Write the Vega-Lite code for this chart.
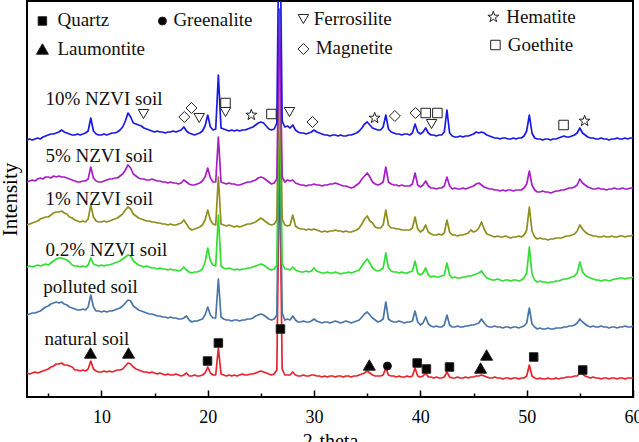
{
  "$schema": "https://vega.github.io/schema/vega-lite/v6.json",
  "width": 606,
  "height": 396,
  "autosize": {"type": "none"},
  "padding": {"left": 27, "top": 1, "right": 6, "bottom": 45},
  "background": "#ffffff",
  "config": {
    "view": {"stroke": "#000000", "strokeWidth": 2},
    "font": "'Liberation Serif', 'Times New Roman', 'DejaVu Serif', serif"
  },
  "layer": [
    {
      "data": {
        "values": [
          {"t":3.00,"nat":24,"pol":82,"z02":130,"z1":172,"z5":215,"z10":257},
          {"t":3.25,"nat":23,"pol":83,"z02":131,"z1":173,"z5":216,"z10":258},
          {"t":3.50,"nat":24,"pol":84,"z02":130,"z1":174,"z5":217,"z10":257},
          {"t":3.75,"nat":25,"pol":84,"z02":131,"z1":175,"z5":216,"z10":258},
          {"t":4.00,"nat":24,"pol":85,"z02":132,"z1":176,"z5":218,"z10":259},
          {"t":4.25,"nat":25,"pol":86,"z02":131,"z1":178,"z5":219,"z10":258},
          {"t":4.50,"nat":26,"pol":88,"z02":132,"z1":179,"z5":218,"z10":260},
          {"t":4.75,"nat":27,"pol":90,"z02":133,"z1":180,"z5":220,"z10":261},
          {"t":5.00,"nat":28,"pol":91,"z02":132,"z1":180,"z5":220,"z10":262},
          {"t":5.25,"nat":30,"pol":93,"z02":134,"z1":182,"z5":219,"z10":263},
          {"t":5.50,"nat":31,"pol":94,"z02":136,"z1":184,"z5":221,"z10":263},
          {"t":5.75,"nat":33,"pol":95,"z02":138,"z1":185,"z5":220,"z10":264},
          {"t":6.00,"nat":33,"pol":94,"z02":139,"z1":185,"z5":221,"z10":265},
          {"t":6.25,"nat":34,"pol":95,"z02":139,"z1":186,"z5":220,"z10":267},
          {"t":6.50,"nat":32,"pol":93,"z02":138,"z1":184,"z5":220,"z10":265},
          {"t":6.75,"nat":32,"pol":92,"z02":137,"z1":183,"z5":219,"z10":264},
          {"t":7.00,"nat":31,"pol":90,"z02":135,"z1":180,"z5":218,"z10":263},
          {"t":7.25,"nat":30,"pol":89,"z02":132,"z1":179,"z5":217,"z10":262},
          {"t":7.50,"nat":27,"pol":88,"z02":131,"z1":177,"z5":216,"z10":262},
          {"t":7.75,"nat":27,"pol":87,"z02":131,"z1":176,"z5":215,"z10":263},
          {"t":8.00,"nat":26,"pol":87,"z02":130,"z1":175,"z5":215,"z10":262},
          {"t":8.25,"nat":27,"pol":88,"z02":131,"z1":176,"z5":216,"z10":263},
          {"t":8.50,"nat":26,"pol":87,"z02":130,"z1":175,"z5":216,"z10":264},
          {"t":8.75,"nat":28,"pol":90,"z02":132,"z1":178,"z5":218,"z10":266},
          {"t":9.00,"nat":36,"pol":102,"z02":139,"z1":192,"z5":230,"z10":279},
          {"t":9.25,"nat":28,"pol":90,"z02":133,"z1":180,"z5":219,"z10":266},
          {"t":9.50,"nat":26,"pol":86,"z02":132,"z1":176,"z5":216,"z10":263},
          {"t":9.75,"nat":25,"pol":86,"z02":131,"z1":175,"z5":215,"z10":262},
          {"t":10.00,"nat":25,"pol":85,"z02":132,"z1":175,"z5":215,"z10":262},
          {"t":10.25,"nat":26,"pol":86,"z02":131,"z1":176,"z5":216,"z10":263},
          {"t":10.50,"nat":25,"pol":85,"z02":132,"z1":175,"z5":217,"z10":262},
          {"t":10.75,"nat":26,"pol":86,"z02":132,"z1":176,"z5":218,"z10":263},
          {"t":11.00,"nat":25,"pol":86,"z02":133,"z1":177,"z5":218,"z10":264},
          {"t":11.25,"nat":26,"pol":87,"z02":134,"z1":178,"z5":219,"z10":264},
          {"t":11.50,"nat":27,"pol":88,"z02":135,"z1":179,"z5":219,"z10":265},
          {"t":11.75,"nat":27,"pol":89,"z02":136,"z1":181,"z5":221,"z10":267},
          {"t":12.00,"nat":28,"pol":91,"z02":138,"z1":183,"z5":223,"z10":270},
          {"t":12.25,"nat":31,"pol":94,"z02":140,"z1":187,"z5":227,"z10":276},
          {"t":12.50,"nat":34,"pol":97,"z02":142,"z1":190,"z5":232,"z10":284},
          {"t":12.75,"nat":33,"pol":96,"z02":141,"z1":188,"z5":229,"z10":280},
          {"t":13.00,"nat":30,"pol":91,"z02":136,"z1":183,"z5":223,"z10":274},
          {"t":13.25,"nat":28,"pol":89,"z02":134,"z1":181,"z5":221,"z10":273},
          {"t":13.50,"nat":27,"pol":87,"z02":132,"z1":179,"z5":219,"z10":272},
          {"t":13.75,"nat":26,"pol":86,"z02":131,"z1":178,"z5":218,"z10":271},
          {"t":14.00,"nat":25,"pol":85,"z02":130,"z1":177,"z5":218,"z10":269},
          {"t":14.25,"nat":25,"pol":84,"z02":131,"z1":176,"z5":217,"z10":268},
          {"t":14.50,"nat":24,"pol":83,"z02":130,"z1":176,"z5":217,"z10":267},
          {"t":14.75,"nat":25,"pol":83,"z02":129,"z1":175,"z5":218,"z10":266},
          {"t":15.00,"nat":24,"pol":82,"z02":129,"z1":175,"z5":217,"z10":265},
          {"t":15.25,"nat":23,"pol":81,"z02":128,"z1":174,"z5":216,"z10":266},
          {"t":15.50,"nat":24,"pol":81,"z02":129,"z1":174,"z5":216,"z10":265},
          {"t":15.75,"nat":23,"pol":80,"z02":128,"z1":173,"z5":215,"z10":265},
          {"t":16.00,"nat":22,"pol":80,"z02":128,"z1":173,"z5":215,"z10":264},
          {"t":16.25,"nat":23,"pol":79,"z02":127,"z1":172,"z5":214,"z10":265},
          {"t":16.50,"nat":22,"pol":80,"z02":128,"z1":173,"z5":215,"z10":265},
          {"t":16.75,"nat":22,"pol":79,"z02":127,"z1":172,"z5":214,"z10":266},
          {"t":17.00,"nat":23,"pol":79,"z02":127,"z1":172,"z5":214,"z10":265},
          {"t":17.25,"nat":22,"pol":78,"z02":126,"z1":173,"z5":213,"z10":266},
          {"t":17.50,"nat":21,"pol":78,"z02":127,"z1":174,"z5":214,"z10":267},
          {"t":17.75,"nat":22,"pol":79,"z02":130,"z1":177,"z5":217,"z10":270},
          {"t":18.00,"nat":24,"pol":81,"z02":127,"z1":173,"z5":215,"z10":266},
          {"t":18.25,"nat":21,"pol":77,"z02":125,"z1":169,"z5":213,"z10":264},
          {"t":18.50,"nat":21,"pol":75,"z02":124,"z1":167,"z5":212,"z10":263},
          {"t":18.75,"nat":22,"pol":76,"z02":125,"z1":168,"z5":212,"z10":262},
          {"t":19.00,"nat":21,"pol":76,"z02":125,"z1":169,"z5":213,"z10":263},
          {"t":19.25,"nat":21,"pol":77,"z02":126,"z1":170,"z5":214,"z10":264},
          {"t":19.50,"nat":22,"pol":78,"z02":128,"z1":172,"z5":216,"z10":266},
          {"t":19.75,"nat":24,"pol":82,"z02":135,"z1":177,"z5":220,"z10":271},
          {"t":20.00,"nat":30,"pol":90,"z02":149,"z1":187,"z5":229,"z10":282},
          {"t":20.25,"nat":24,"pol":82,"z02":136,"z1":177,"z5":219,"z10":270},
          {"t":20.50,"nat":22,"pol":79,"z02":132,"z1":173,"z5":215,"z10":267},
          {"t":20.75,"nat":22,"pol":79,"z02":131,"z1":172,"z5":215,"z10":268},
          {"t":21.00,"nat":49,"pol":118,"z02":182,"z1":220,"z5":260,"z10":322},
          {"t":21.25,"nat":23,"pol":80,"z02":131,"z1":173,"z5":215,"z10":269},
          {"t":21.50,"nat":22,"pol":78,"z02":129,"z1":172,"z5":214,"z10":268},
          {"t":21.75,"nat":21,"pol":77,"z02":128,"z1":171,"z5":213,"z10":267},
          {"t":22.00,"nat":22,"pol":77,"z02":129,"z1":172,"z5":214,"z10":266},
          {"t":22.25,"nat":21,"pol":76,"z02":128,"z1":171,"z5":213,"z10":267},
          {"t":22.50,"nat":22,"pol":77,"z02":127,"z1":170,"z5":213,"z10":266},
          {"t":22.75,"nat":21,"pol":77,"z02":128,"z1":171,"z5":212,"z10":267},
          {"t":23.00,"nat":22,"pol":76,"z02":127,"z1":170,"z5":212,"z10":266},
          {"t":23.25,"nat":23,"pol":77,"z02":128,"z1":171,"z5":213,"z10":267},
          {"t":23.50,"nat":22,"pol":77,"z02":128,"z1":172,"z5":214,"z10":267},
          {"t":23.75,"nat":22,"pol":78,"z02":129,"z1":173,"z5":215,"z10":268},
          {"t":24.00,"nat":23,"pol":78,"z02":129,"z1":173,"z5":215,"z10":269},
          {"t":24.25,"nat":23,"pol":79,"z02":130,"z1":174,"z5":216,"z10":270},
          {"t":24.50,"nat":24,"pol":81,"z02":131,"z1":175,"z5":217,"z10":272},
          {"t":24.75,"nat":25,"pol":82,"z02":132,"z1":177,"z5":219,"z10":274},
          {"t":25.00,"nat":26,"pol":83,"z02":133,"z1":179,"z5":220,"z10":275},
          {"t":25.25,"nat":25,"pol":82,"z02":132,"z1":177,"z5":219,"z10":274},
          {"t":25.50,"nat":24,"pol":80,"z02":130,"z1":175,"z5":217,"z10":271},
          {"t":25.75,"nat":23,"pol":78,"z02":128,"z1":173,"z5":215,"z10":268},
          {"t":26.00,"nat":22,"pol":77,"z02":127,"z1":172,"z5":213,"z10":267},
          {"t":26.25,"nat":23,"pol":78,"z02":128,"z1":173,"z5":214,"z10":268},
          {"t":26.50,"nat":27,"pol":82,"z02":132,"z1":177,"z5":218,"z10":274},
          {"t":26.75,"nat":247,"pol":288,"z02":328,"z1":358,"z5":388,"z10":520},
          {"t":27.00,"nat":28,"pol":84,"z02":134,"z1":178,"z5":220,"z10":276},
          {"t":27.25,"nat":22,"pol":77,"z02":128,"z1":172,"z5":215,"z10":270},
          {"t":27.50,"nat":22,"pol":78,"z02":128,"z1":171,"z5":217,"z10":271},
          {"t":27.75,"nat":22,"pol":77,"z02":127,"z1":172,"z5":216,"z10":269},
          {"t":28.00,"nat":25,"pol":81,"z02":130,"z1":182,"z5":217,"z10":272},
          {"t":28.25,"nat":22,"pol":77,"z02":127,"z1":171,"z5":214,"z10":267},
          {"t":28.50,"nat":21,"pol":75,"z02":126,"z1":169,"z5":213,"z10":265},
          {"t":28.75,"nat":21,"pol":75,"z02":125,"z1":168,"z5":212,"z10":264},
          {"t":29.00,"nat":22,"pol":76,"z02":125,"z1":168,"z5":212,"z10":264},
          {"t":29.25,"nat":21,"pol":75,"z02":126,"z1":167,"z5":211,"z10":263},
          {"t":29.50,"nat":21,"pol":75,"z02":125,"z1":168,"z5":212,"z10":264},
          {"t":29.75,"nat":22,"pol":76,"z02":126,"z1":167,"z5":212,"z10":265},
          {"t":30.00,"nat":22,"pol":78,"z02":129,"z1":168,"z5":213,"z10":267},
          {"t":30.25,"nat":21,"pol":76,"z02":126,"z1":167,"z5":212,"z10":265},
          {"t":30.50,"nat":21,"pol":75,"z02":125,"z1":166,"z5":212,"z10":264},
          {"t":30.75,"nat":20,"pol":74,"z02":124,"z1":165,"z5":211,"z10":263},
          {"t":31.00,"nat":21,"pol":75,"z02":124,"z1":166,"z5":212,"z10":262},
          {"t":31.25,"nat":20,"pol":75,"z02":125,"z1":165,"z5":212,"z10":262},
          {"t":31.50,"nat":21,"pol":74,"z02":124,"z1":166,"z5":213,"z10":261},
          {"t":31.75,"nat":21,"pol":75,"z02":124,"z1":166,"z5":213,"z10":262},
          {"t":32.00,"nat":20,"pol":76,"z02":125,"z1":167,"z5":214,"z10":262},
          {"t":32.25,"nat":21,"pol":75,"z02":124,"z1":166,"z5":213,"z10":261},
          {"t":32.50,"nat":21,"pol":74,"z02":123,"z1":166,"z5":212,"z10":262},
          {"t":32.75,"nat":20,"pol":75,"z02":124,"z1":165,"z5":211,"z10":261},
          {"t":33.00,"nat":21,"pol":76,"z02":124,"z1":166,"z5":211,"z10":261},
          {"t":33.25,"nat":21,"pol":75,"z02":125,"z1":165,"z5":210,"z10":262},
          {"t":33.50,"nat":20,"pol":74,"z02":124,"z1":165,"z5":209,"z10":262},
          {"t":33.75,"nat":21,"pol":75,"z02":125,"z1":166,"z5":210,"z10":263},
          {"t":34.00,"nat":21,"pol":76,"z02":126,"z1":167,"z5":212,"z10":264},
          {"t":34.25,"nat":22,"pol":77,"z02":127,"z1":169,"z5":214,"z10":266},
          {"t":34.50,"nat":23,"pol":80,"z02":131,"z1":173,"z5":218,"z10":269},
          {"t":34.75,"nat":24,"pol":83,"z02":135,"z1":178,"z5":221,"z10":273},
          {"t":35.00,"nat":26,"pol":85,"z02":138,"z1":181,"z5":224,"z10":275},
          {"t":35.25,"nat":24,"pol":82,"z02":134,"z1":176,"z5":220,"z10":272},
          {"t":35.50,"nat":22,"pol":79,"z02":129,"z1":174,"z5":215,"z10":269},
          {"t":35.75,"nat":21,"pol":77,"z02":127,"z1":170,"z5":213,"z10":268},
          {"t":36.00,"nat":21,"pol":75,"z02":126,"z1":169,"z5":212,"z10":267},
          {"t":36.25,"nat":21,"pol":76,"z02":127,"z1":169,"z5":213,"z10":267},
          {"t":36.50,"nat":22,"pol":78,"z02":129,"z1":172,"z5":215,"z10":270},
          {"t":36.75,"nat":29,"pol":95,"z02":144,"z1":187,"z5":230,"z10":282},
          {"t":37.00,"nat":22,"pol":78,"z02":129,"z1":172,"z5":215,"z10":268},
          {"t":37.25,"nat":21,"pol":76,"z02":126,"z1":169,"z5":213,"z10":265},
          {"t":37.50,"nat":21,"pol":75,"z02":125,"z1":169,"z5":212,"z10":264},
          {"t":37.75,"nat":20,"pol":75,"z02":125,"z1":168,"z5":212,"z10":263},
          {"t":38.00,"nat":21,"pol":76,"z02":124,"z1":168,"z5":211,"z10":263},
          {"t":38.25,"nat":20,"pol":75,"z02":125,"z1":167,"z5":212,"z10":262},
          {"t":38.50,"nat":20,"pol":74,"z02":124,"z1":167,"z5":211,"z10":263},
          {"t":38.75,"nat":21,"pol":75,"z02":124,"z1":167,"z5":211,"z10":263},
          {"t":39.00,"nat":20,"pol":75,"z02":125,"z1":167,"z5":211,"z10":262},
          {"t":39.25,"nat":21,"pol":76,"z02":126,"z1":169,"z5":213,"z10":264},
          {"t":39.50,"nat":29,"pol":86,"z02":136,"z1":180,"z5":224,"z10":273},
          {"t":39.75,"nat":21,"pol":75,"z02":124,"z1":168,"z5":212,"z10":265},
          {"t":40.00,"nat":20,"pol":72,"z02":122,"z1":165,"z5":210,"z10":263},
          {"t":40.25,"nat":21,"pol":74,"z02":124,"z1":167,"z5":212,"z10":265},
          {"t":40.50,"nat":24,"pol":80,"z02":129,"z1":172,"z5":216,"z10":269},
          {"t":40.75,"nat":20,"pol":73,"z02":122,"z1":165,"z5":211,"z10":264},
          {"t":41.00,"nat":20,"pol":71,"z02":120,"z1":163,"z5":209,"z10":262},
          {"t":41.25,"nat":19,"pol":70,"z02":121,"z1":162,"z5":209,"z10":262},
          {"t":41.50,"nat":20,"pol":71,"z02":120,"z1":162,"z5":208,"z10":261},
          {"t":41.75,"nat":19,"pol":70,"z02":120,"z1":163,"z5":209,"z10":262},
          {"t":42.00,"nat":19,"pol":70,"z02":121,"z1":162,"z5":209,"z10":262},
          {"t":42.25,"nat":20,"pol":72,"z02":122,"z1":164,"z5":211,"z10":265},
          {"t":42.50,"nat":25,"pol":82,"z02":134,"z1":177,"z5":220,"z10":287},
          {"t":42.75,"nat":20,"pol":72,"z02":122,"z1":165,"z5":211,"z10":264},
          {"t":43.00,"nat":19,"pol":70,"z02":119,"z1":162,"z5":208,"z10":261},
          {"t":43.25,"nat":19,"pol":70,"z02":120,"z1":162,"z5":209,"z10":260},
          {"t":43.50,"nat":20,"pol":71,"z02":119,"z1":161,"z5":208,"z10":260},
          {"t":43.75,"nat":19,"pol":70,"z02":119,"z1":162,"z5":208,"z10":261},
          {"t":44.00,"nat":19,"pol":70,"z02":120,"z1":162,"z5":209,"z10":260},
          {"t":44.25,"nat":20,"pol":71,"z02":120,"z1":163,"z5":208,"z10":261},
          {"t":44.50,"nat":19,"pol":71,"z02":121,"z1":164,"z5":209,"z10":261},
          {"t":44.75,"nat":20,"pol":72,"z02":121,"z1":167,"z5":210,"z10":262},
          {"t":45.00,"nat":20,"pol":72,"z02":122,"z1":165,"z5":211,"z10":263},
          {"t":45.25,"nat":21,"pol":73,"z02":123,"z1":166,"z5":213,"z10":265},
          {"t":45.50,"nat":21,"pol":74,"z02":124,"z1":169,"z5":214,"z10":264},
          {"t":45.75,"nat":22,"pol":78,"z02":126,"z1":175,"z5":212,"z10":265},
          {"t":46.00,"nat":21,"pol":74,"z02":122,"z1":168,"z5":210,"z10":264},
          {"t":46.25,"nat":20,"pol":71,"z02":119,"z1":163,"z5":209,"z10":262},
          {"t":46.50,"nat":19,"pol":70,"z02":118,"z1":162,"z5":208,"z10":261},
          {"t":46.75,"nat":19,"pol":70,"z02":117,"z1":161,"z5":208,"z10":260},
          {"t":47.00,"nat":20,"pol":71,"z02":117,"z1":160,"z5":207,"z10":259},
          {"t":47.25,"nat":19,"pol":70,"z02":118,"z1":161,"z5":207,"z10":259},
          {"t":47.50,"nat":19,"pol":70,"z02":117,"z1":160,"z5":206,"z10":258},
          {"t":47.75,"nat":18,"pol":69,"z02":116,"z1":160,"z5":207,"z10":259},
          {"t":48.00,"nat":19,"pol":70,"z02":117,"z1":161,"z5":206,"z10":259},
          {"t":48.25,"nat":19,"pol":70,"z02":117,"z1":160,"z5":207,"z10":258},
          {"t":48.50,"nat":18,"pol":69,"z02":116,"z1":159,"z5":207,"z10":258},
          {"t":48.75,"nat":19,"pol":70,"z02":117,"z1":160,"z5":206,"z10":259},
          {"t":49.00,"nat":19,"pol":70,"z02":117,"z1":160,"z5":207,"z10":258},
          {"t":49.25,"nat":18,"pol":69,"z02":116,"z1":161,"z5":207,"z10":259},
          {"t":49.50,"nat":19,"pol":70,"z02":117,"z1":160,"z5":207,"z10":259},
          {"t":49.75,"nat":19,"pol":71,"z02":119,"z1":162,"z5":209,"z10":261},
          {"t":50.00,"nat":21,"pol":74,"z02":124,"z1":167,"z5":213,"z10":266},
          {"t":50.25,"nat":32,"pol":89,"z02":150,"z1":190,"z5":226,"z10":282},
          {"t":50.50,"nat":21,"pol":73,"z02":123,"z1":166,"z5":212,"z10":264},
          {"t":50.75,"nat":19,"pol":70,"z02":117,"z1":160,"z5":207,"z10":259},
          {"t":51.00,"nat":18,"pol":68,"z02":115,"z1":158,"z5":205,"z10":258},
          {"t":51.25,"nat":19,"pol":69,"z02":116,"z1":159,"z5":205,"z10":258},
          {"t":51.50,"nat":18,"pol":68,"z02":115,"z1":158,"z5":206,"z10":257},
          {"t":51.75,"nat":18,"pol":68,"z02":115,"z1":158,"z5":205,"z10":258},
          {"t":52.00,"nat":19,"pol":69,"z02":114,"z1":157,"z5":205,"z10":258},
          {"t":52.25,"nat":18,"pol":68,"z02":115,"z1":158,"z5":204,"z10":257},
          {"t":52.50,"nat":18,"pol":68,"z02":115,"z1":158,"z5":205,"z10":258},
          {"t":52.75,"nat":19,"pol":69,"z02":116,"z1":159,"z5":206,"z10":258},
          {"t":53.00,"nat":18,"pol":69,"z02":116,"z1":159,"z5":206,"z10":259},
          {"t":53.25,"nat":19,"pol":69,"z02":117,"z1":159,"z5":207,"z10":260},
          {"t":53.50,"nat":19,"pol":70,"z02":118,"z1":160,"z5":207,"z10":261},
          {"t":53.75,"nat":20,"pol":70,"z02":118,"z1":161,"z5":208,"z10":260},
          {"t":54.00,"nat":20,"pol":71,"z02":119,"z1":161,"z5":209,"z10":260},
          {"t":54.25,"nat":20,"pol":71,"z02":120,"z1":162,"z5":209,"z10":261},
          {"t":54.50,"nat":21,"pol":72,"z02":121,"z1":163,"z5":210,"z10":262},
          {"t":54.75,"nat":21,"pol":74,"z02":124,"z1":166,"z5":212,"z10":264},
          {"t":55.00,"nat":24,"pol":78,"z02":135,"z1":172,"z5":218,"z10":269},
          {"t":55.25,"nat":23,"pol":75,"z02":125,"z1":168,"z5":214,"z10":264},
          {"t":55.50,"nat":21,"pol":73,"z02":122,"z1":165,"z5":212,"z10":262},
          {"t":55.75,"nat":20,"pol":71,"z02":120,"z1":163,"z5":210,"z10":260},
          {"t":56.00,"nat":19,"pol":70,"z02":119,"z1":162,"z5":209,"z10":259},
          {"t":56.25,"nat":20,"pol":71,"z02":118,"z1":161,"z5":208,"z10":259},
          {"t":56.50,"nat":19,"pol":70,"z02":117,"z1":161,"z5":208,"z10":258},
          {"t":56.75,"nat":19,"pol":70,"z02":117,"z1":160,"z5":209,"z10":258},
          {"t":57.00,"nat":18,"pol":71,"z02":116,"z1":160,"z5":208,"z10":259},
          {"t":57.25,"nat":19,"pol":70,"z02":117,"z1":161,"z5":208,"z10":258},
          {"t":57.50,"nat":19,"pol":70,"z02":117,"z1":160,"z5":207,"z10":258},
          {"t":57.75,"nat":18,"pol":69,"z02":116,"z1":160,"z5":208,"z10":257},
          {"t":58.00,"nat":19,"pol":70,"z02":117,"z1":161,"z5":208,"z10":258},
          {"t":58.25,"nat":19,"pol":70,"z02":118,"z1":160,"z5":209,"z10":258},
          {"t":58.50,"nat":18,"pol":69,"z02":118,"z1":160,"z5":208,"z10":259},
          {"t":58.75,"nat":19,"pol":70,"z02":119,"z1":161,"z5":208,"z10":258},
          {"t":59.00,"nat":19,"pol":70,"z02":119,"z1":161,"z5":209,"z10":258},
          {"t":59.25,"nat":18,"pol":71,"z02":118,"z1":160,"z5":208,"z10":259},
          {"t":59.50,"nat":19,"pol":70,"z02":119,"z1":161,"z5":208,"z10":258},
          {"t":59.75,"nat":19,"pol":70,"z02":119,"z1":161,"z5":209,"z10":259},
          {"t":60.00,"nat":19,"pol":71,"z02":120,"z1":162,"z5":209,"z10":259}
        ]
      },
      "transform": [
        {"fold": ["nat", "pol", "z02", "z1", "z5", "z10"], "as": ["series", "v"]}
      ],
      "mark": {"type": "line", "clip": true, "strokeWidth": 1.7, "strokeJoin": "round"},
      "encoding": {
        "x": {
          "field": "t",
          "type": "quantitative",
          "scale": {"domain": [3, 60], "nice": false, "zero": false},
          "axis": {
            "title": "2-theta",
            "values": [5, 10, 15, 20, 25, 30, 35, 40, 45, 50, 55, 60],
            "labelExpr": "datum.value % 10 === 0 ? datum.label : ''",
            "domain": false,
            "grid": false,
            "tickColor": "#000000",
            "tickWidth": 1.5,
            "tickSize": {"condition": {"test": "datum.value % 10 === 0", "value": -7}, "value": -4},
            "labelFont": "'Liberation Serif', 'Times New Roman', 'DejaVu Serif', serif",
            "labelFontSize": 18,
            "labelColor": "#000000",
            "labelPadding": 18,
            "labelFlush": false,
            "labelOverlap": false,
            "labelBound": false,
            "titleFont": "'Liberation Serif', 'Times New Roman', 'DejaVu Serif', serif",
            "titleFontSize": 20,
            "titleFontWeight": "normal",
            "titleColor": "#000000",
            "titlePadding": 2
          }
        },
        "y": {
          "field": "v",
          "type": "quantitative",
          "scale": {"domain": [0, 396], "nice": false, "zero": false},
          "axis": {
            "title": "Intensity",
            "domain": false,
            "ticks": false,
            "labels": false,
            "grid": false,
            "titleFont": "'Liberation Serif', 'Times New Roman', 'DejaVu Serif', serif",
            "titleFontSize": 21,
            "titleFontWeight": "normal",
            "titleColor": "#000000",
            "titlePadding": 7
          }
        },
        "stroke": {
          "field": "series",
          "type": "nominal",
          "scale": {
            "domain": ["nat", "pol", "z02", "z1", "z5", "z10"],
            "range": ["#e8232b", "#4a75a8", "#33dd33", "#8e8e1e", "#a61fc6", "#1a1ae6"]
          },
          "legend": null
        }
      }
    },
    {
      "data": {
        "values": [
          {"t":8.97,"v":44,"m":"Laumontite"},
          {"t":12.55,"v":44,"m":"Laumontite"},
          {"t":19.98,"v":36,"m":"Quartz"},
          {"t":21.0,"v":54,"m":"Quartz"},
          {"t":26.84,"v":68,"m":"Quartz"},
          {"t":35.2,"v":32,"m":"Laumontite"},
          {"t":36.9,"v":31,"m":"Greenalite"},
          {"t":39.7,"v":34,"m":"Quartz"},
          {"t":40.57,"v":28,"m":"Quartz"},
          {"t":42.74,"v":30,"m":"Quartz"},
          {"t":45.66,"v":29,"m":"Laumontite"},
          {"t":46.23,"v":42,"m":"Laumontite"},
          {"t":50.66,"v":40,"m":"Quartz"},
          {"t":55.27,"v":27,"m":"Quartz"},
          {"t":13.96,"v":283,"m":"Ferrosilite"},
          {"t":17.8,"v":280,"m":"Magnetite"},
          {"t":18.47,"v":289,"m":"Magnetite"},
          {"t":19.2,"v":279,"m":"Ferrosilite"},
          {"t":21.67,"v":294,"m":"Goethite"},
          {"t":21.67,"v":285,"m":"Ferrosilite"},
          {"t":24.1,"v":282,"m":"Hematite"},
          {"t":25.99,"v":283,"m":"Goethite"},
          {"t":27.69,"v":285,"m":"Ferrosilite"},
          {"t":29.85,"v":275,"m":"Magnetite"},
          {"t":35.7,"v":279,"m":"Hematite"},
          {"t":37.6,"v":281,"m":"Magnetite"},
          {"t":39.55,"v":284,"m":"Magnetite"},
          {"t":40.5,"v":284,"m":"Goethite"},
          {"t":41.6,"v":284,"m":"Goethite"},
          {"t":41.05,"v":273,"m":"Ferrosilite"},
          {"t":53.47,"v":272,"m":"Goethite"},
          {"t":55.45,"v":276,"m":"Hematite"},
          {"t":4.45,"v":376,"m":"Quartz"},
          {"t":15.74,"v":376,"m":"Greenalite"},
          {"t":29.0,"v":378,"m":"Ferrosilite"},
          {"t":4.45,"v":348,"m":"Laumontite"},
          {"t":29.0,"v":348,"m":"Magnetite"},
          {"t":46.86,"v":380,"m":"Hematite"},
          {"t":47.06,"v":352,"m":"Goethite"}
        ]
      },
      "mark": {"type": "point", "filled": true, "opacity": 1, "stroke": "#222222", "strokeWidth": 1},
      "encoding": {
        "x": {"field": "t", "type": "quantitative"},
        "y": {"field": "v", "type": "quantitative"},
        "shape": {
          "field": "m",
          "type": "nominal",
          "scale": {
            "domain": ["Quartz", "Laumontite", "Greenalite", "Ferrosilite", "Magnetite", "Hematite", "Goethite"],
            "range": ["square", "triangle-up", "circle", "triangle-down", "diamond", "M0,-1L0.235,-0.324L0.951,-0.309L0.38,0.124L0.588,0.809L0,0.4L-0.588,0.809L-0.38,0.124L-0.951,-0.309L-0.235,-0.324Z", "square"]
          },
          "legend": null
        },
        "fill": {
          "field": "m",
          "type": "nominal",
          "scale": {
            "domain": ["Quartz", "Laumontite", "Greenalite", "Ferrosilite", "Magnetite", "Hematite", "Goethite"],
            "range": ["#000000", "#000000", "#000000", "#ffffff", "#ffffff", "#ffffff", "#ffffff"]
          },
          "legend": null
        },
        "size": {
          "field": "m",
          "type": "nominal",
          "scale": {
            "type": "ordinal",
            "domain": ["Quartz", "Laumontite", "Greenalite", "Ferrosilite", "Magnetite", "Hematite", "Goethite"],
            "range": [72, 144, 64, 110, 120, 130, 90]
          },
          "legend": null
        }
      }
    },
    {
      "data": {
        "values": [
          {"t":4.73,"v":292,"s":"10% NZVI soil"},
          {"t":4.73,"v":235,"s":"5% NZVI soil"},
          {"t":4.73,"v":192,"s":"1% NZVI soil"},
          {"t":4.73,"v":141,"s":"0.2% NZVI soil"},
          {"t":4.54,"v":104,"s":"polluted soil"},
          {"t":4.64,"v":52,"s":"natural soil"},
          {"t":5.86,"v":371,"s":"Quartz"},
          {"t":16.77,"v":371,"s":"Greenalite"},
          {"t":5.86,"v":342,"s":"Laumontite"},
          {"t":29.96,"v":372,"s":"Ferrosilite"},
          {"t":30.15,"v":343,"s":"Magnetite"},
          {"t":48.07,"v":374,"s":"Hematite"},
          {"t":48.22,"v":346,"s":"Goethite"}
        ]
      },
      "mark": {"type": "text", "align": "left", "baseline": "alphabetic", "font": "'Liberation Serif', 'Times New Roman', 'DejaVu Serif', serif", "fontSize": 19, "color": "#111111"},
      "encoding": {
        "x": {"field": "t", "type": "quantitative"},
        "y": {"field": "v", "type": "quantitative"},
        "text": {"field": "s", "type": "nominal"}
      }
    }
  ]
}
